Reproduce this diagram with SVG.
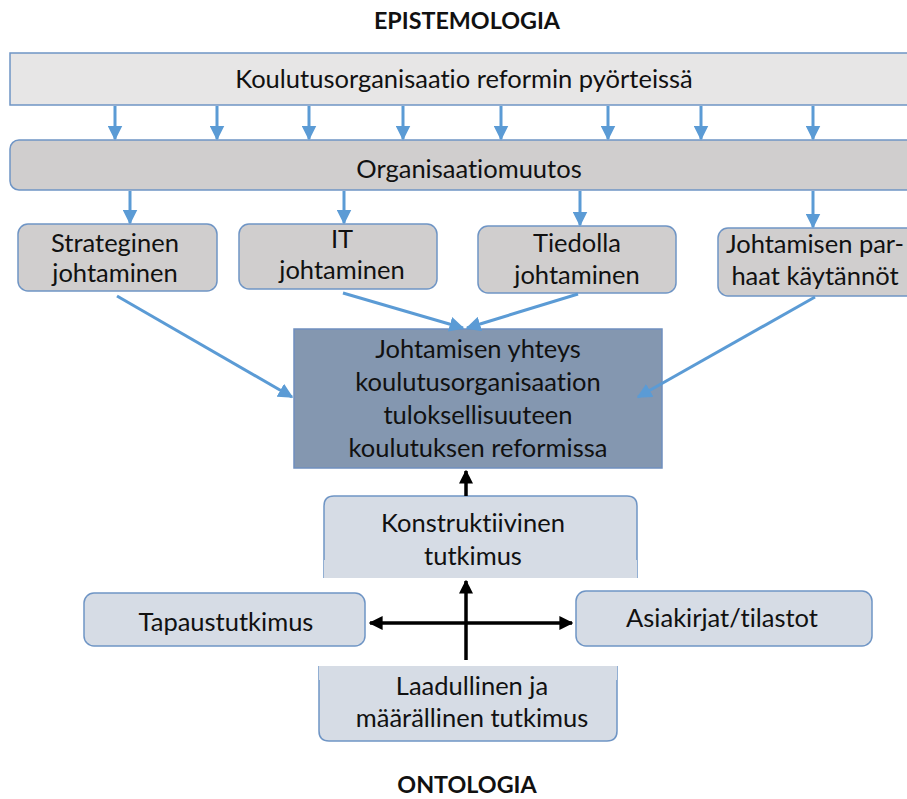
<svg xmlns="http://www.w3.org/2000/svg" width="907" height="799" viewBox="0 0 907 799">
  <defs>
    <marker id="blueHead" viewBox="0 0 10 10" refX="9" refY="5" markerWidth="5" markerHeight="5" orient="auto" markerUnits="strokeWidth">
      <path d="M0,0 L10,5 L0,10 z" fill="#5b9bd5"/>
    </marker>
    <marker id="blackHead" viewBox="0 0 10 10" refX="9" refY="5" markerWidth="4" markerHeight="4" orient="auto-start-reverse" markerUnits="strokeWidth">
      <path d="M0,0 L10,5 L0,10 z" fill="#000"/>
    </marker>
  </defs>
  <style>
    text { font-family: Lato, "Open Sans", "Liberation Sans", sans-serif; font-size: 25.5px; fill: #111; text-anchor: middle; font-variant-ligatures: none; }
    .title { font-weight: bold; font-size: 23.3px; }
    .gray { fill: #d0cece; stroke: #6f95c5; stroke-width: 1.5; }
    .light { fill: #e7e6e6; stroke: #6f95c5; stroke-width: 1.5; }
    .pale { fill: #d6dce5; stroke: #6f95c5; stroke-width: 1.5; }
    .dark { fill: #8497b0; stroke: #6f8fbf; stroke-width: 1.5; }
    .blue { stroke: #5b9bd5; stroke-width: 3; fill: none; marker-end: url(#blueHead); }
    .black { stroke: #000; stroke-width: 3.5; fill: none; }
  </style>

  <rect width="907" height="799" fill="#fff"/>

  <text class="title" x="467" y="29">EPISTEMOLOGIA</text>
  <text class="title" x="467" y="793">ONTOLOGIA</text>

  <g id="reform">
    <rect class="light" x="10" y="53" width="905" height="52"/>
    <text x="464" y="88">Koulutusorganisaatio reformin pyörteissä</text>
  </g>

  <g id="change">
    <rect class="gray" x="10" y="140" width="905" height="50" rx="9"/>
    <text x="469" y="178">Organisaatiomuutos</text>
  </g>

  <g id="strategic">
    <rect class="gray" x="18" y="224" width="199" height="67" rx="10"/>
    <text x="115" y="252">Strateginen</text>
    <text x="115" y="282">johtaminen</text>
  </g>

  <g id="it">
    <rect class="gray" x="239" y="224" width="198" height="65" rx="10"/>
    <text x="342" y="248">IT</text>
    <text x="342" y="279">johtaminen</text>
  </g>

  <g id="knowledge">
    <rect class="gray" x="478" y="226" width="198" height="67" rx="10"/>
    <text x="577" y="252">Tiedolla</text>
    <text x="577" y="284">johtaminen</text>
  </g>

  <g id="practices">
    <rect class="gray" x="718" y="228" width="200" height="68" rx="10"/>
    <text x="815" y="253">Johtamisen par-</text>
    <text x="815" y="285">haat käytännöt</text>
  </g>

  <g id="core">
    <rect class="dark" x="294" y="329" width="368" height="139"/>
    <text x="478" y="358">Johtamisen yhteys</text>
    <text x="478" y="391">koulutusorganisaation</text>
    <text x="478" y="424">tuloksellisuuteen</text>
    <text x="478" y="457">koulutuksen reformissa</text>
  </g>

  <g id="constructive">
    <path class="pale" d="M324,578 L324,506 Q324,496 334,496 L627,496 Q637,496 637,506 L637,578"/>
    <rect x="324" y="560" width="313" height="18" fill="#d6dce5"/>
    <text x="473" y="532">Konstruktiivinen</text>
    <text x="473" y="565">tutkimus</text>
  </g>

  <g id="case">
    <rect class="pale" x="84" y="593" width="281" height="53" rx="10"/>
    <text x="226" y="631">Tapaustutkimus</text>
  </g>

  <g id="documents">
    <rect class="pale" x="576" y="591" width="296" height="55" rx="10"/>
    <text x="722" y="627">Asiakirjat/tilastot</text>
  </g>

  <g id="methods">
    <path class="pale" d="M319,666 L319,731 Q319,741 329,741 L607,741 Q617,741 617,731 L617,666"/>
    <rect x="319" y="666" width="298" height="14" fill="#d6dce5"/>
    <text x="472" y="695">Laadullinen ja</text>
    <text x="472" y="727">määrällinen tutkimus</text>
  </g>

  <g id="connectors">
    <line class="blue" x1="115" y1="106" x2="115" y2="139"/>
    <line class="blue" x1="217" y1="106" x2="217" y2="139"/>
    <line class="blue" x1="309" y1="106" x2="309" y2="139"/>
    <line class="blue" x1="403" y1="106" x2="403" y2="139"/>
    <line class="blue" x1="501" y1="106" x2="501" y2="139"/>
    <line class="blue" x1="608" y1="106" x2="608" y2="139"/>
    <line class="blue" x1="701" y1="106" x2="701" y2="139"/>
    <line class="blue" x1="813" y1="106" x2="813" y2="139"/>

    <line class="blue" x1="130" y1="191" x2="130" y2="223"/>
    <line class="blue" x1="344" y1="191" x2="344" y2="223"/>
    <line class="blue" x1="580" y1="191" x2="580" y2="225"/>
    <line class="blue" x1="813" y1="191" x2="813" y2="227"/>

    <line class="blue" x1="117" y1="296" x2="292" y2="397"/>
    <line class="blue" x1="343" y1="293" x2="463" y2="328"/>
    <line class="blue" x1="578" y1="294" x2="467" y2="328"/>
    <line class="blue" x1="815" y1="297" x2="638" y2="397"/>

    <line class="black" x1="466" y1="496" x2="466" y2="471" marker-end="url(#blackHead)"/>
    <line class="black" x1="466" y1="660" x2="466" y2="581" marker-end="url(#blackHead)"/>
    <line class="black" x1="370" y1="623" x2="572" y2="623" marker-start="url(#blackHead)" marker-end="url(#blackHead)"/>
  </g>
</svg>
